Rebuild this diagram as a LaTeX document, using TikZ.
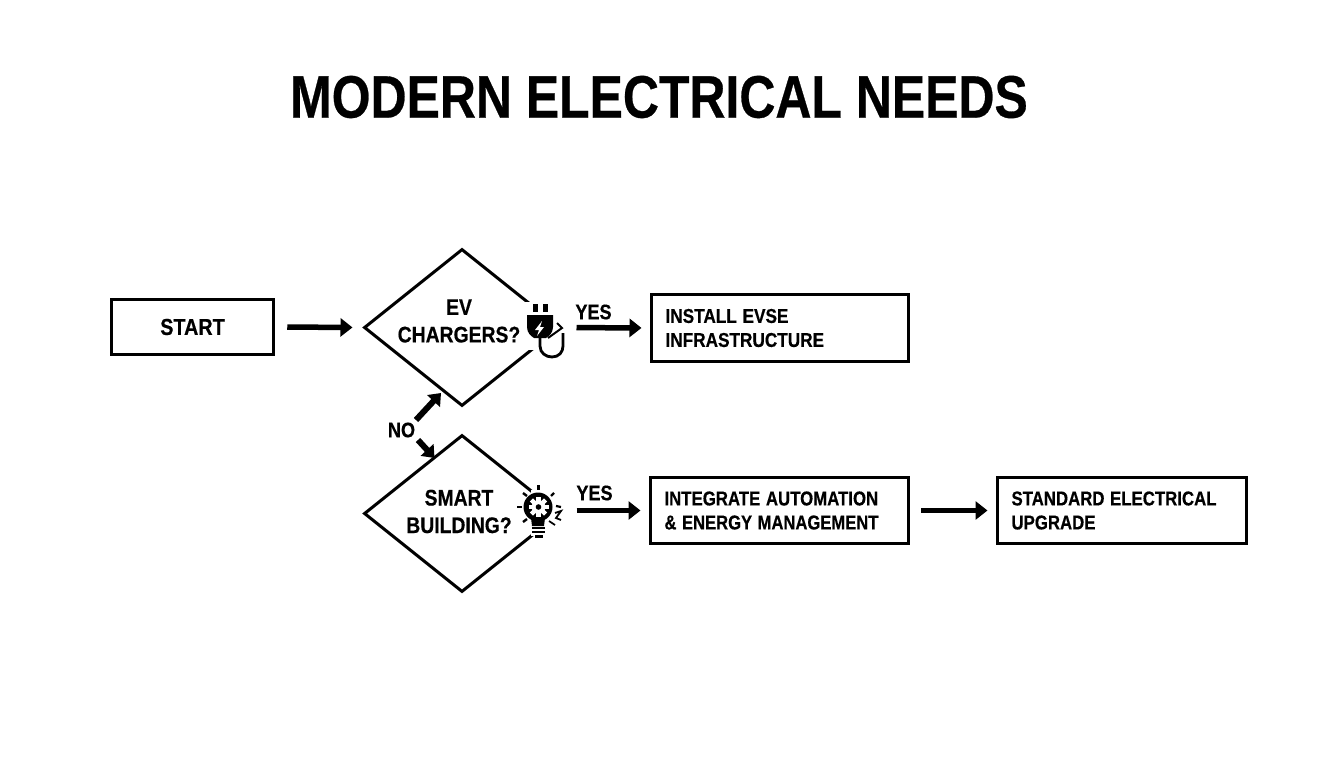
\documentclass[tikz,border=0pt]{standalone}
\usepackage{fontspec}
\setmainfont[BoldFeatures={FakeBold=0.5}]{Liberation Sans}
\usetikzlibrary{shapes.geometric,arrows.meta,calc}
\newcommand{\cond}[2][.86]{\scalebox{#1}[1]{#2}}
\tikzset{
  x=1pt,y=-1pt,
  flowbox/.style={draw=black,line width=3pt,fill=white,inner sep=0pt,inner xsep=14pt,align=left,font=\fontsize{20}{24}\selectfont\bfseries},
  decision/.style={diamond,draw=black,line width=3pt,minimum width=196pt,minimum height=157pt,inner sep=0pt,aspect=1.25},
  dectext/.style={align=center,font=\fontsize{22.5}{27.5}\selectfont\bfseries},
  lab/.style={font=\fontsize{21}{24}\selectfont\bfseries},
  flow/.style={line width=5.5pt,-{Triangle[length=12pt,width=18pt]}},
  noflow/.style={line width=6pt,-{Triangle[length=11pt,width=17pt]}},
}
\begin{document}
\begin{tikzpicture}
\useasboundingbox (0,0) rectangle (1344,768);
\fill[white] (0,0) rectangle (1344,768);
\node (title) at (659,97) {\fontsize{60}{62}\selectfont\bfseries\cond[.832]{MODERN ELECTRICAL NEEDS}};

\node[flowbox,minimum width=161.5pt,minimum height=55pt,align=center,inner xsep=0pt] (start) at (192.5,327) {\fontsize{23}{26}\selectfont\cond{START}};
\node[decision] (d1) at (462,327.5) {};
\node[decision] (d2) at (462,513.5) {};
\node[flowbox,minimum height=67pt,text width=229pt] (i1) at (780,328) {\cond{INSTALL EVSE}\\\cond{INFRASTRUCTURE}};
\node[flowbox,minimum height=66pt,text width=230pt] (i2) at (779.5,510.5) {\cond[.84]{INTEGRATE AUTOMATION}\\\cond[.83]{\& ENERGY MANAGEMENT}};
\node[flowbox,minimum height=66pt,text width=221pt] (i3) at (1122,510.5) {\cond[.84]{STANDARD ELECTRICAL}\\\cond[.84]{UPGRADE}};

\node[dectext] (t1) at (459,321) {\cond{EV}\\\cond{CHARGERS?}};
\node[dectext] (t2) at (459,511.5) {\cond{SMART}\\\cond{BUILDING?}};

% white patches hide the right corners of the diamonds behind the icons
\fill[white] (524,302) rectangle (572,350);
\fill[white] (531,490) -- (572,490) -- (572,536) -- (531,536) -- cycle;

% plug icon
\fill (533,304) rectangle (538,312);
\fill (543,304) rectangle (548,312);
\fill (527,315) -- (553,315) -- (553,327) .. controls (553,333) and (549,336) .. (546,338) -- (534,338) .. controls (531,336) and (527,333) .. (527,327) -- cycle;
\fill[white] (542,321) -- (535,330) -- (539,330) -- (537,336) -- (544,327) -- (540,327) -- cycle;
\draw[line width=2.8pt] (540,338) -- (540,346) .. controls (540,353) and (546,357) .. (552,357) .. controls (559,357) and (563,352) .. (563,346) -- (563,333);
\draw[line width=2pt] (548,338) -- (562,328) -- (557,323);

% bulb icon
\fill (538,507) circle (14.5);
\fill (531,518) -- (545,518) -- (544,526) -- (532,526) -- cycle;
\fill (532,527) rectangle (545,529);
\fill (532,531) rectangle (545,533);
\fill (534.5,535) rectangle (542.5,538);
\foreach \a in {0,45,...,315}{\fill[white,rotate around={\a:(538.5,507)}] (536.3,497) rectangle (540.7,503);}
\fill[white] (538.5,507) circle (6.8);
\fill (538.5,507) circle (2.8);
\draw[line width=2.4pt] (538.5,485) -- (538.5,490);
\draw[line width=2.4pt] (523,493) -- (527,496);
\draw[line width=2.4pt] (554,493) -- (551,496);
\draw[line width=2.4pt] (517,507) -- (522,507);
\draw[line width=2.4pt] (523,522) -- (527,519);
\draw[line width=2.2pt] (556,506) -- (561,507);
\draw[line width=1.8pt] (555,513) -- (561,511) -- (556,518) -- (561,520);
\draw[line width=1.8pt] (549,521) -- (555,525);

% connectors
\draw[flow,shorten <=12.5pt,shorten >=10pt] (start.east) -- (d1.west);
\draw[flow,shorten <=15pt,shorten >=8.5pt] (d1.east) -- (i1.west);
\draw[flow,shorten <=15pt,shorten >=8.5pt] (d2.east |- i2.west) -- (i2.west);
\draw[flow,shorten <=11pt,shorten >=8.5pt] (i2.east) -- (i3.west);

\node[lab,inner sep=0pt] (y1) at (593.5,312) {\cond{YES}};
\node[lab,inner sep=0pt] (y2) at (594.5,493) {\cond{YES}};
\node[lab,inner sep=0pt] (no) at (401.5,430) {\cond{NO}};
\coordinate (noa) at (416,420);
\coordinate (nob) at (441,393);
\coordinate (noc) at (418,440);
\coordinate (nod) at (434.5,458);
\draw[noflow] (noa) -- (nob);
\draw[noflow] (noc) -- (nod);
\end{tikzpicture}
\end{document}
